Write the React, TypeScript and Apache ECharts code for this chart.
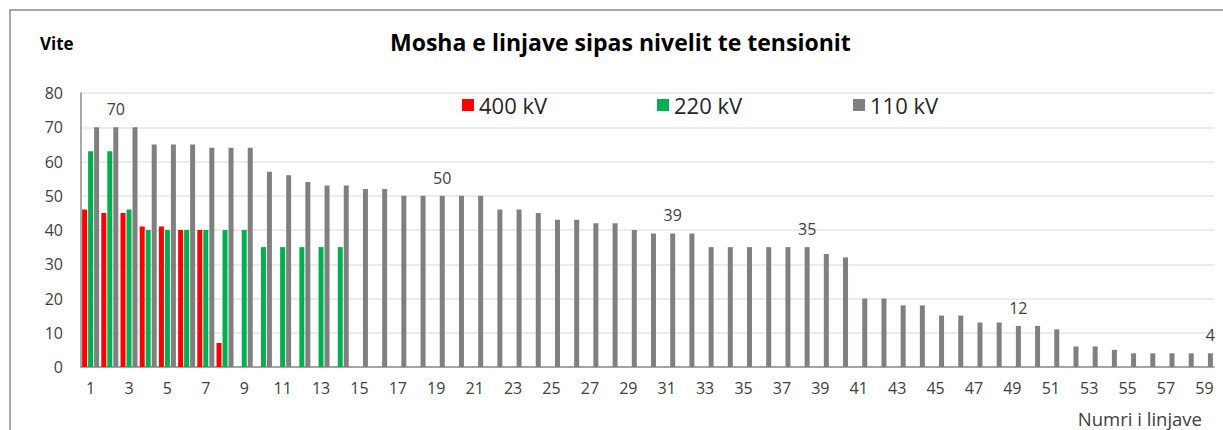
import React, { useEffect, useRef } from "react";
import * as echarts from "echarts";

const categories: string[] = Array.from({ length: 59 }, (_, i) => String(i + 1));

const kv400: (number | null)[] = [46, 45, 45, 41, 41, 40, 40, 7];
const kv220: (number | null)[] = [63, 63, 46, 40, 40, 40, 40, 40, 40, 35, 35, 35, 35, 35];
const kv110: number[] = [
  70, 70, 70, 65, 65, 65, 64, 64, 64, 57,
  56, 54, 53, 53, 52, 52, 50, 50, 50, 50,
  50, 46, 46, 45, 43, 43, 42, 42, 40, 39,
  39, 39, 35, 35, 35, 35, 35, 35, 33, 32,
  20, 20, 18, 18, 15, 15, 13, 13, 12, 12,
  11, 6, 6, 5, 4, 4, 4, 4, 4,
];
// categories (1-based) whose 110 kV bar carries a value label
const labelled110: number[] = [2, 19, 31, 38, 49, 59];

const yTicks = { min: 0, max: 80, interval: 10 };

const FONT = "'Open Sans', 'Noto Sans', sans-serif";

export default function App() {
  const ref = useRef<HTMLDivElement>(null);
  useEffect(() => {
    document.body.style.margin = "0";
    const chart = echarts.init(ref.current!, null, { renderer: "svg" });
    const pad = (arr: (number | null)[]) =>
      categories.map((_, i) => (i < arr.length ? arr[i] : null));
    const labelStyle = {
      show: true,
      position: "top",
      distance: 10,
      fontSize: 16,
      color: "#404040",
      fontFamily: FONT,
    };
    const legendBase = {
      itemWidth: 12,
      itemHeight: 12,
      icon: "rect",
      padding: 0,
      textStyle: { fontSize: 22, color: "#262626", fontFamily: FONT },
      top: 94,
    };
    chart.setOption({
      animation: false,
      textStyle: { fontFamily: FONT },
      title: {
        text: "Mosha e linjave sipas nivelit te tensionit",
        left: 385,
        top: 25,
        textStyle: { fontSize: 23, fontWeight: "bold", color: "#000", fontFamily: FONT },
      },
      legend: [
        { ...legendBase, left: 462, data: ["400 kV"] },
        { ...legendBase, left: 657, data: ["220 kV"] },
        { ...legendBase, left: 853, data: ["110 kV"] },
      ],
      grid: { left: 81, right: 9, top: 93, bottom: 63 },
      xAxis: {
        type: "category",
        data: categories,
        axisLine: { lineStyle: { color: "#8c8c8c", width: 1.5 } },
        axisTick: { show: false },
        axisLabel: { interval: 1, fontSize: 16, color: "#404040", margin: 13, fontFamily: FONT },
        name: "Numri i linjave",
        nameLocation: "end",
        nameGap: 0,
        nameTextStyle: {
          fontSize: 18.5,
          color: "#404040",
          fontFamily: FONT,
          align: "right",
          verticalAlign: "top",
          padding: [42, 12, 0, 0],
        },
      },
      yAxis: {
        type: "value",
        min: yTicks.min,
        max: yTicks.max,
        interval: yTicks.interval,
        axisLine: { show: true, lineStyle: { color: "#8c8c8c", width: 1.5 } },
        axisTick: { show: false },
        axisLabel: { fontSize: 16, color: "#404040", margin: 18, fontFamily: FONT },
        splitLine: { lineStyle: { color: "#e6e6e6", width: 1.5 } },
      },
      series: [
        {
          name: "400 kV",
          type: "bar",
          data: pad(kv400),
          barWidth: 5,
          barGap: "20%",
          itemStyle: { color: "#ff0000" },
        },
        {
          name: "220 kV",
          type: "bar",
          data: pad(kv220),
          barWidth: 5,
          barGap: "20%",
          itemStyle: { color: "#00b050" },
        },
        {
          name: "110 kV",
          type: "bar",
          data: kv110.map((v, i) =>
            labelled110.includes(i + 1) ? { value: v, label: labelStyle } : v
          ),
          barWidth: 5,
          barGap: "20%",
          itemStyle: { color: "#808080" },
        },
      ],
      graphic: [
        {
          type: "rect",
          shape: { x: 10, y: 10, width: 1400, height: 600 },
          style: { fill: "none", stroke: "#8c8c8c", lineWidth: 1.5 },
          silent: true,
        },
        {
          type: "text",
          left: 40,
          top: 35,
          style: { text: "Vite", font: `bold 17px ${FONT}`, fill: "#000" },
        },
      ],
    });
    return () => chart.dispose();
  }, []);
  return <div ref={ref} style={{ width: 1223, height: 430 }} />;
}
